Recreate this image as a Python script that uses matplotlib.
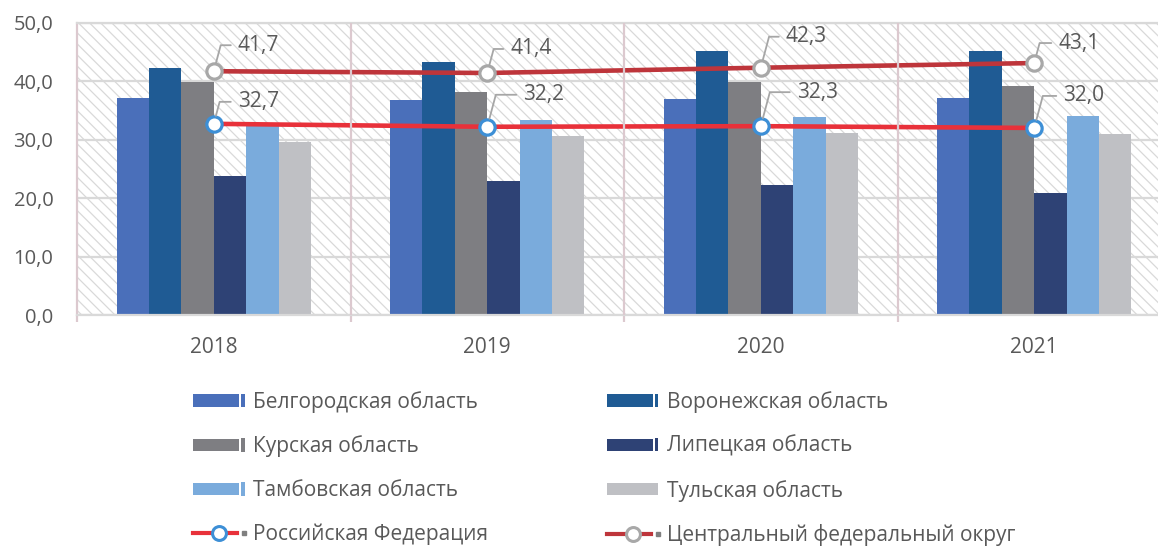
import numpy as np
import matplotlib
matplotlib.use("Agg")
import matplotlib.pyplot as plt
from matplotlib.patches import Rectangle
from matplotlib.lines import Line2D
from matplotlib.legend_handler import HandlerBase
from matplotlib.ticker import FuncFormatter, FixedLocator

plt.rcParams['font.family'] = ['Open Sans', 'DejaVu Sans']
plt.rcParams['hatch.linewidth'] = 0.9

years = ['2018', '2019', '2020', '2021']
regions = ['Белгородская область', 'Воронежская область', 'Курская область',
           'Липецкая область', 'Тамбовская область', 'Тульская область']
belgorod = [37.2, 36.7, 36.9, 37.1]
voronezh = [42.3, 43.2, 45.1, 45.2]
kursk = [39.8, 38.1, 39.8, 39.1]
lipetsk = [23.8, 23.0, 22.3, 20.9]
tambov = [32.3, 33.3, 33.8, 34.0]
tula = [29.6, 30.6, 31.1, 31.0]
rf = [32.7, 32.2, 32.3, 32.0]
cfo = [41.7, 41.4, 42.3, 43.1]
rf_name = 'Российская Федерация'
cfo_name = 'Центральный федеральный округ'

bar_series = [belgorod, voronezh, kursk, lipetsk, tambov, tula]
bar_colors = ['#4a6fba', '#1f5b94', '#7e7e82', '#2e4275', '#7aabdc', '#bfc0c4']
rf_color, rf_edge = '#e8313a', '#3d8fd6'
cfo_color, cfo_edge = '#be353b', '#a8a8a8'
text_color = '#595959'
grid_color = '#d9d9d9'
sep_color = '#dcc9cf'

# label offsets (pixels) for data labels
cfo_off = [(24, 26), (23, 24), (25, 31), (24, 20)]
rf_off = [(24, 22), (36, 32), (36, 34), (29, 32)]

fig = plt.figure(figsize=(11.58, 5.46), dpi=100)
ax = fig.add_axes([77 / 1158, 1 - 315 / 546, 1094 / 1158, (315 - 22.7) / 546])

x = np.arange(len(years))
n = len(bar_series)
bw = 0.1185
for i, (vals, col) in enumerate(zip(bar_series, bar_colors)):
    ax.bar(x + (i - (n - 1) / 2) * bw, vals, width=bw, color=col, zorder=2,
           label=regions[i])

# hatched background
bg = Rectangle((0, 0), 1, 1, transform=ax.transAxes, facecolor='white',
               edgecolor='#d9d9d9', hatch='\\\\\\', linewidth=0, zorder=0)
ax.add_patch(bg)
ax.set_facecolor('white')

l_cfo, = ax.plot(x, cfo, color=cfo_color, lw=3.3, marker='o', ms=11,
                 mfc='white', mec=cfo_edge, mew=2.3, zorder=3, label=cfo_name)
l_rf, = ax.plot(x, rf, color=rf_color, lw=3.3, marker='o', ms=11,
                mfc='white', mec=rf_edge, mew=2.3, zorder=3, label=rf_name)

# category separators (drawn above lines as in the original)
for b in x[:-1] + 0.5:
    ax.axvline(b, color=sep_color, lw=1.6, zorder=3.5)

fmt = lambda v: f"{v:.1f}".replace('.', ',')
for vals, offs in ((cfo, cfo_off), (rf, rf_off)):
    for xi, v, (dx, dy) in zip(x, vals, offs):
        ax.annotate(fmt(v), xy=(xi, v), xytext=(dx * 0.72, dy * 0.72),
                    textcoords='offset points', ha='left', va='center',
                    fontsize=15, color=text_color, zorder=6,
                    arrowprops=dict(arrowstyle='-', color='#a6a6a6', lw=1.3,
                                    connectionstyle='angle,angleA=0,angleB=75,rad=0',
                                    relpos=(0, 0.5), shrinkA=3, shrinkB=6))

ax.set_xlim(-0.5, len(years) - 0.5)
ax.set_ylim(0, 50)
ax.set_yticks(np.arange(0, 51, 10))
ax.yaxis.set_major_formatter(FuncFormatter(lambda v, p: fmt(v)))
ax.set_xticks(x)
ax.set_xticklabels(years)
ax.xaxis.set_minor_locator(FixedLocator(np.arange(-0.5, len(years), 1.0)))
ax.tick_params(axis='x', which='major', length=0, pad=16, labelsize=15,
               labelcolor=text_color)
ax.tick_params(axis='x', which='minor', length=5, width=1.6, color=sep_color)
ax.tick_params(axis='y', length=0, pad=17, labelsize=14.5, labelcolor=text_color)
ax.set_axisbelow(True)
ax.yaxis.grid(True, color=grid_color, lw=1.6, zorder=1)
ax.spines['right'].set_visible(False)
for s in ['top', 'bottom', 'left']:
    ax.spines[s].set_color(grid_color)
    ax.spines[s].set_linewidth(1.6)
ax.spines['left'].set_color(sep_color)


class BarTickHandler(HandlerBase):
    def __init__(self, tick=True):
        super().__init__()
        self.tick = tick

    def create_artists(self, legend, orig_handle, xdescent, ydescent, width,
                       height, fontsize, trans):
        c = orig_handle.get_facecolor()
        x0, y0 = -xdescent, -ydescent
        arts = []
        if self.tick:
            arts.append(Rectangle((x0, y0 + height * 0.05), width * 0.86, height * 0.9,
                                  facecolor=c, edgecolor='none', transform=trans))
            arts.append(Rectangle((x0 + width * 0.9, y0), width * 0.07, height,
                                  facecolor=c, edgecolor='none', transform=trans))
        else:
            arts.append(Rectangle((x0, y0 + height * 0.05), width * 0.97, height * 0.9,
                                  facecolor=c, edgecolor='none', transform=trans))
        return arts


class LineMarkHandler(HandlerBase):
    def create_artists(self, legend, orig_handle, xdescent, ydescent, width,
                       height, fontsize, trans):
        x0, y0 = -xdescent, -ydescent
        yc = y0 + height / 2
        ln = Line2D([x0, x0 + width * 0.83], [yc, yc], color=orig_handle.get_color(),
                    lw=3, transform=trans)
        mk = Line2D([x0 + width * 0.49], [yc], marker='o', ms=10, mfc='white',
                    mec=orig_handle.get_markeredgecolor(), mew=2.2, ls='none',
                    transform=trans)
        sq = Line2D([x0 + width * 0.96], [yc], marker='s', ms=3.5, color='#7f7f7f',
                    ls='none', transform=trans)
        return [ln, mk, sq]


bars = ax.containers
order = [(bars[0], regions[0]), (bars[2], regions[2]), (bars[4], regions[4]), (l_rf, rf_name),
         (bars[1], regions[1]), (bars[3], regions[3]), (bars[5], regions[5]), (l_cfo, cfo_name)]
handles = [h.patches[0] if hasattr(h, 'patches') else h for h, _ in order]
labels = [lab for _, lab in order]
hmap = {}
for h, lab in zip(handles, labels):
    if isinstance(h, Line2D):
        hmap[h] = LineMarkHandler()
    else:
        hmap[h] = BarTickHandler(tick=(lab != regions[5]))

leg = fig.legend(handles, labels, ncol=2, loc='upper left',
                 bbox_to_anchor=(193 / 1158, 1 - 391 / 546), frameon=False,
                 borderpad=0, borderaxespad=0, fontsize=15, handlelength=2.55,
                 handleheight=0.62, handletextpad=0.34, labelspacing=1.09,
                 columnspacing=5.7, labelcolor=text_color, handler_map=hmap)

fig.savefig('out.png', dpi=100, facecolor='white')
